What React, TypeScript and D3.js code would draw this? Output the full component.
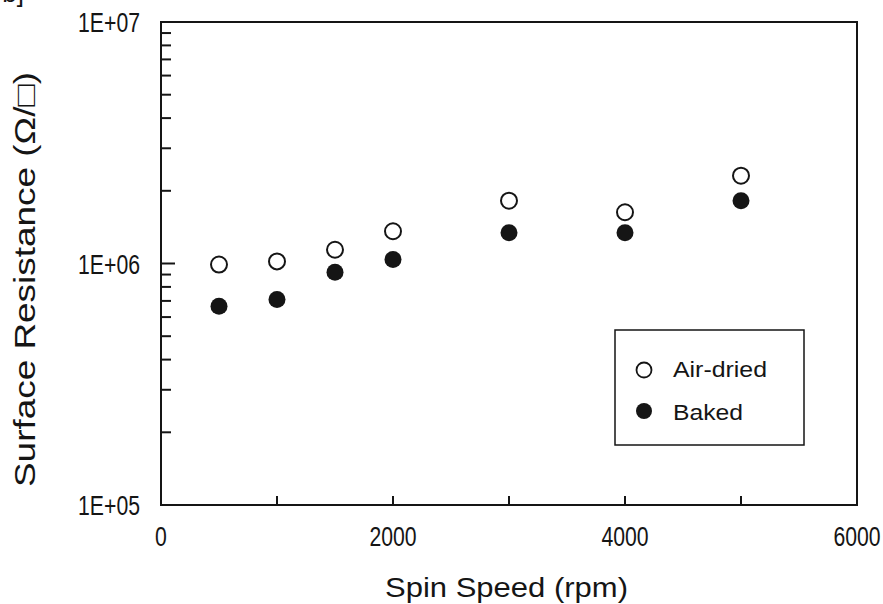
import React from "react";
import * as d3 from "d3";

const speeds = [500, 1000, 1500, 2000, 3000, 4000, 5000];
const airDried = [0.99e6, 1.02e6, 1.14e6, 1.36e6, 1.82e6, 1.63e6, 2.31e6];
const baked = [0.665e6, 0.71e6, 0.92e6, 1.04e6, 1.34e6, 1.34e6, 1.82e6];
const xTickValues = [0, 1000, 2000, 3000, 4000, 5000, 6000];
const xLabelValues = [0, 2000, 4000, 6000];
const yLabelValues = [1e5, 1e6, 1e7];
const yLabelTexts = ["1E+05", "1E+06", "1E+07"];
const seriesNames = ["Air-dried", "Baked"];

const W = 883;
const H = 604;
const M = { left: 161, right: 857, top: 22, bottom: 505 };
const INK = "#151515";
const SANS = "Arial, 'Liberation Sans', Helvetica, sans-serif";

export default function App() {
  const x = d3.scaleLinear().domain([0, 6000]).range([M.left, M.right]);
  const y = d3.scaleLog().domain([1e5, 1e7]).range([M.bottom, M.top]);

  const minorY: number[] = [];
  [1e5, 1e6].forEach((dec) => {
    for (let k = 2; k <= 9; k++) minorY.push(k * dec);
  });

  return (
    <svg
      width={W}
      height={H}
      style={{ position: "fixed", left: 0, top: 0, background: "#fff" }}
    >
      <rect x={0} y={0} width={W} height={H} fill="#fff" />
      {/* cropped panel label fragment */}
      <text x={24} y={2} textAnchor="end" fontFamily={SANS} fontSize={26} fill={INK}>
        b]
      </text>

      {/* frame */}
      <rect
        x={M.left}
        y={M.top}
        width={M.right - M.left}
        height={M.bottom - M.top}
        fill="none"
        stroke={INK}
        strokeWidth={2}
      />

      {/* x ticks */}
      {xTickValues.map((v) => (
        <line key={"xt" + v} x1={x(v)} x2={x(v)} y1={M.bottom} y2={M.bottom - 9} stroke={INK} strokeWidth={2} />
      ))}
      {xLabelValues.map((v) => {
        const s = String(v);
        const w = s.length * 11.8;
        return (
          <text
            key={"xl" + v}
            x={x(v) - w / 2}
            y={546}
            fontFamily={SANS}
            fontSize={27}
            textLength={w}
            lengthAdjust="spacingAndGlyphs"
            fill={INK}
          >
            {s}
          </text>
        );
      })}

      {/* y ticks */}
      {yLabelValues.map((v) => (
        <line key={"ym" + v} x1={M.left} x2={M.left + 14} y1={y(v)} y2={y(v)} stroke={INK} strokeWidth={2} />
      ))}
      {minorY.map((v) => (
        <line key={"yn" + v} x1={M.left} x2={M.left + 10} y1={y(v)} y2={y(v)} stroke={INK} strokeWidth={2} />
      ))}
      {yLabelValues.map((v, i) => (
        <text
          key={"yl" + v}
          x={78}
          y={y(v) + 10}
          fontFamily={SANS}
          fontSize={27}
          textLength={62}
          lengthAdjust="spacingAndGlyphs"
          fill={INK}
        >
          {yLabelTexts[i]}
        </text>
      ))}

      {/* data */}
      {speeds.map((s, i) => (
        <circle key={"a" + s} cx={x(s)} cy={y(airDried[i])} r={8} fill="#fff" stroke={INK} strokeWidth={2} />
      ))}
      {speeds.map((s, i) => (
        <circle key={"b" + s} cx={x(s)} cy={y(baked[i])} r={8.5} fill={INK} />
      ))}

      {/* legend */}
      <rect x={615} y={330} width={189} height={115} fill="#fff" stroke={INK} strokeWidth={1.5} />
      <circle cx={644} cy={370} r={7.5} fill="#fff" stroke={INK} strokeWidth={1.8} />
      <circle cx={644} cy={411} r={8} fill={INK} />
      <text x={673} y={377} fontFamily={SANS} fontSize={22} textLength={94} lengthAdjust="spacingAndGlyphs" fill={INK}>
        {seriesNames[0]}
      </text>
      <text x={673} y={420} fontFamily={SANS} fontSize={22} textLength={70} lengthAdjust="spacingAndGlyphs" fill={INK}>
        {seriesNames[1]}
      </text>

      {/* axis titles */}
      <text x={385} y={597} fontFamily={SANS} fontSize={27} textLength={243} lengthAdjust="spacingAndGlyphs" fill={INK}>
        Spin Speed (rpm)
      </text>
      <text
        transform={`translate(35,487) rotate(-90)`}
        fontFamily={SANS}
        fontSize={29}
        textLength={415}
        lengthAdjust="spacingAndGlyphs"
        fill={INK}
      >
        Surface Resistance (Ω/□)
      </text>
    </svg>
  );
}
